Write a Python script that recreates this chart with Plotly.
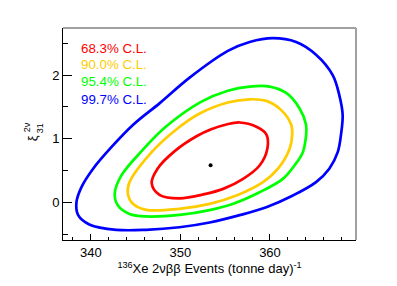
import plotly.graph_objects as go

# Contour data (x: events per tonne-day, y: xi_31^{2nu})
blue_x = [338.40, 338.96, 340.26, 342.25, 344.73, 347.70, 351.03, 355.30, 357.73, 360.33,
          362.92, 365.14, 367.00, 367.73, 368.11, 367.92, 367.56, 366.62, 365.14, 362.56, 359.59, 356.62,
          353.26, 349.89, 346.18, 342.84, 339.89, 338.59]
blue_y = [0.00, 0.24, 0.53, 0.86, 1.22, 1.56, 1.96, 2.38, 2.52, 2.58,
          2.52, 2.32, 2.00, 1.69, 1.375, 1.06, 0.79, 0.53, 0.32, 0.11, -0.074, -0.20,
          -0.315, -0.39, -0.43, -0.43, -0.35, -0.20]

green_x = [342.67, 343.40, 345.70, 348.30, 352.30, 355.30, 357.73, 359.96, 361.81, 363.29, 364.03,
           364.03, 363.67, 362.73, 361.44, 358.84, 355.89, 353.26, 349.89, 346.18, 344.33, 343.03]
green_y = [0.135, 0.42, 0.81, 1.18, 1.58, 1.755, 1.82, 1.82, 1.72, 1.48, 1.22,
           1.06, 0.79, 0.58, 0.37, 0.16, -0.02, -0.12, -0.195, -0.22, -0.18, -0.047]

orange_x = [344.14, 344.33, 346.60, 349.40, 352.20, 355.30, 357.73, 359.59, 361.26, 362.37, 362.48,
            362.18, 360.89, 359.22, 356.26, 353.26, 349.89, 346.18, 344.70]
orange_y = [0.135, 0.32, 0.76, 1.13, 1.40, 1.57, 1.62, 1.595, 1.45, 1.22, 1.06,
            0.84, 0.53, 0.32, 0.11, -0.022, -0.10, -0.116, -0.022]

red_x = [346.80, 347.45, 349.40, 351.80, 353.44, 355.14, 356.62, 358.48, 359.59, 359.70, 358.84, 357.00,
         354.78, 352.70, 349.89, 347.67]
red_y = [0.30, 0.53, 0.81, 1.04, 1.15, 1.225, 1.256, 1.19, 1.07, 0.84, 0.58, 0.37,
         0.213, 0.13, 0.065, 0.12]

best_x = [353.37]
best_y = [0.585]

labels = ["68.3% C.L.", "90.0% C.L.", "95.4% C.L.", "99.7% C.L."]
colors = ["#ff0000", "#ffcc00", "#00ff00", "#0000ff"]

x_ticks = [340, 350, 360]
y_ticks = [0, 1, 2]

FONT = "Liberation Sans, Arial, sans-serif"

fig = go.Figure()

series = [(red_x, red_y), (orange_x, orange_y), (green_x, green_y), (blue_x, blue_y)]
for (xs, ys), c in zip(series, colors):
    fig.add_trace(go.Scatter(
        x=xs + xs[:1], y=ys + ys[:1], mode="lines",
        line=dict(color=c, width=2.7, shape="spline", smoothing=1.0),
        showlegend=False, hoverinfo="skip"))

fig.add_trace(go.Scatter(x=best_x, y=best_y, mode="markers",
                         marker=dict(color="black", size=4), showlegend=False))

legend_y = [0.905, 0.827, 0.748, 0.664]
for lab, c, yy in zip(labels, colors, legend_y):
    fig.add_annotation(text=lab, x=0.055, y=yy, xref="paper", yref="paper",
                       xanchor="left", yanchor="middle", showarrow=False,
                       font=dict(family=FONT, size=13.3, color=c))

# y-axis title: xi with stacked super/subscript
fig.add_annotation(text="ξ", x=-0.106, y=0.48, xref="paper", yref="paper", textangle=-90,
                   xanchor="center", yanchor="middle", showarrow=False,
                   font=dict(family=FONT, size=13, color="black"))
fig.add_annotation(text="2ν", x=-0.124, y=0.53, xref="paper", yref="paper", textangle=-90,
                   xanchor="center", yanchor="middle", showarrow=False,
                   font=dict(family=FONT, size=9, color="black"))
fig.add_annotation(text="31", x=-0.078, y=0.528, xref="paper", yref="paper", textangle=-90,
                   xanchor="center", yanchor="middle", showarrow=False,
                   font=dict(family=FONT, size=9, color="black"))

# top / right grey frame
fig.add_shape(type="line", xref="paper", yref="paper", x0=0, x1=1, y0=1, y1=1,
              line=dict(color="#a0a0a0", width=2))
fig.add_shape(type="line", xref="paper", yref="paper", x0=1, x1=1, y0=0, y1=1,
              line=dict(color="#a0a0a0", width=2))

fig.update_xaxes(range=[336.9, 369.6], tickvals=x_ticks, ticks="inside", ticklen=6,
                 tickcolor="black", showline=True, linecolor="black", linewidth=1,
                 showgrid=False, zeroline=False, automargin=False,
                 minor=dict(ticks="inside", dtick=2, tick0=340, ticklen=3, tickcolor="black", showgrid=False),
                 tickfont=dict(family=FONT, size=13, color="black"),
                 title=dict(text="<sup>136</sup>Xe 2νββ Events (tonne day)<sup>-1</sup>",
                            font=dict(family=FONT, size=13, color="black"), standoff=1))
fig.update_yaxes(range=[-0.59, 2.74], tickvals=y_ticks, ticks="inside", ticklen=9,
                 tickcolor="black", showline=True, linecolor="black", linewidth=1,
                 showgrid=False, zeroline=False, automargin=False,
                 minor=dict(ticks="inside", dtick=0.5, tick0=0, ticklen=5, tickcolor="black", showgrid=False),
                 tickfont=dict(family=FONT, size=13, color="black"))

# page body has an 8px default margin, so shift plot margins accordingly
fig.update_layout(width=397, height=286, margin=dict(l=55, r=49, t=20, b=54),
                  plot_bgcolor="white", paper_bgcolor="white")

fig.write_html("out.html")
